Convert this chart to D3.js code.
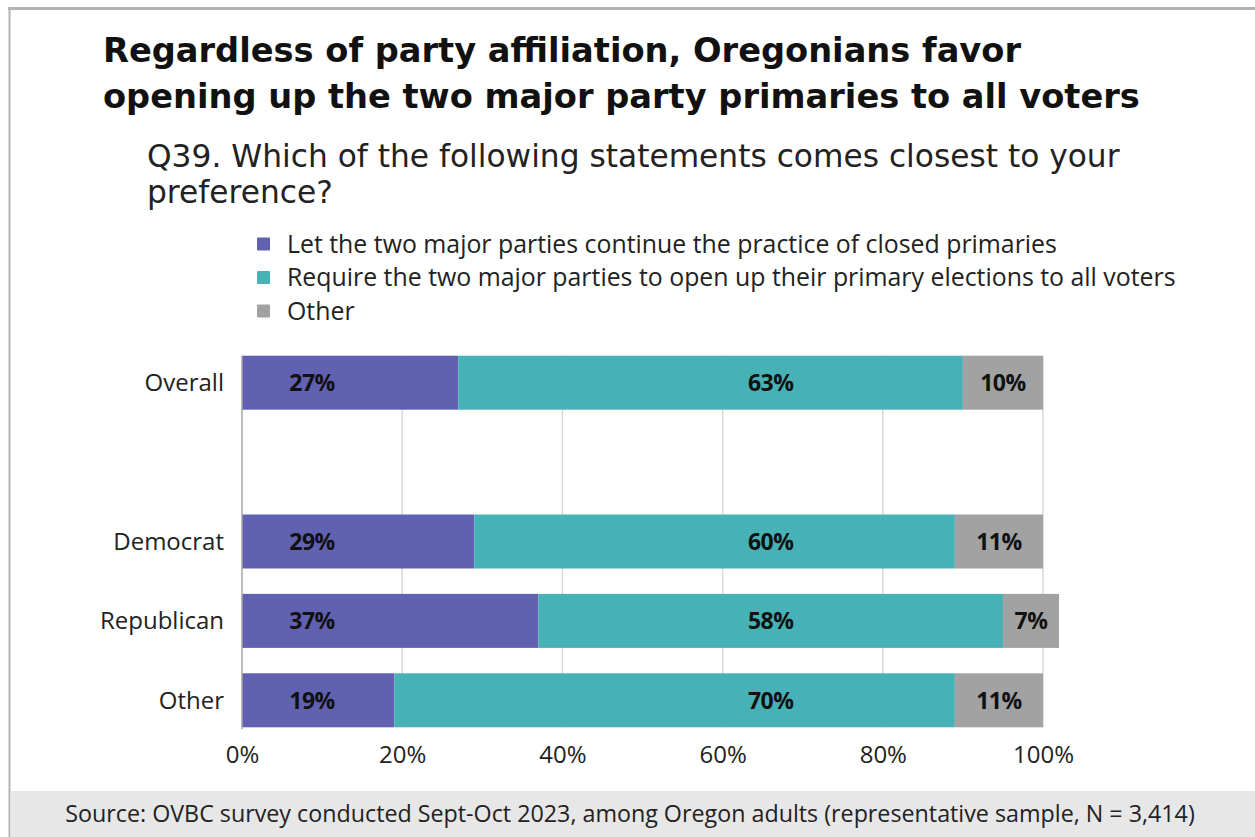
<!DOCTYPE html>
<html>
<head>
<meta charset="utf-8">
<script src="https://cdn.jsdelivr.net/npm/d3@7"></script>
<style>
  html, body { margin: 0; padding: 0; background: #fff; }
  svg { display: block; font-family: "Open Sans", Lato, sans-serif; }
</style>
</head>
<body>
<svg id="chart" width="1255" height="837"></svg>
<script>
// Survey groups (the empty entry leaves a gap between Overall and the party rows)
const groups = ["Overall", "", "Democrat", "Republican", "Other"];
const seriesNames = [
  "Let the two major parties continue the practice of closed primaries",
  "Require the two major parties to open up their primary elections to all voters",
  "Other"
];
const closedPrimaries = [27, null, 29, 37, 19];
const openPrimaries   = [63, null, 60, 58, 70];
const otherAnswer     = [10, null, 11, 7, 11];
const tickValues = [0, 20, 40, 60, 80, 100];
const colors = ["#6161b2", "#47b2b5", "#a2a2a2"];

const svg = d3.select("#chart");
const W = 1255, H = 837;

// scale a text's font size so that it spans the given width
function fitWidth(sel, width) {
  const fs = parseFloat(sel.attr("font-size"));
  const len = sel.node().getComputedTextLength();
  sel.attr("font-size", (fs * width / len).toFixed(2));
  return sel;
}

// frame lines
svg.append("line").attr("x1", 8).attr("x2", W).attr("y1", 8.5).attr("y2", 8.5)
  .attr("stroke", "#b3b3b3").attr("stroke-width", 3);
svg.append("line").attr("x1", 9.5).attr("x2", 9.5).attr("y1", 7).attr("y2", H)
  .attr("stroke", "#b3b3b3").attr("stroke-width", 2);

// titles
const t1 = svg.append("text").attr("x", 103).attr("y", 62)
  .attr("font-family", "'DejaVu Sans', sans-serif")
  .attr("font-size", 32).attr("font-weight", 700).attr("fill", "#111")
  .text("Regardless of party affiliation, Oregonians favor");
const t2 = svg.append("text").attr("x", 103).attr("y", 108)
  .attr("font-family", "'DejaVu Sans', sans-serif")
  .attr("font-size", 32).attr("font-weight", 700).attr("fill", "#111")
  .text("opening up the two major party primaries to all voters");
fitWidth(t2, 1037);
t1.attr("font-size", t2.attr("font-size"));

const s1 = svg.append("text").attr("x", 147).attr("y", 167)
  .attr("font-family", "'DejaVu Sans', sans-serif")
  .attr("font-size", 28).attr("fill", "#222")
  .text("Q39. Which of the following statements comes closest to your");
fitWidth(s1, 973);
svg.append("text").attr("x", 147).attr("y", 203)
  .attr("font-family", "'DejaVu Sans', sans-serif")
  .attr("font-size", s1.attr("font-size")).attr("fill", "#222")
  .text("preference?");

// legend
const legend = svg.append("g");
const legendTexts = seriesNames.map((name, i) => {
  const cy = 244 + i * 33.5;
  legend.append("rect").attr("x", 257).attr("y", cy - 6.5).attr("width", 13).attr("height", 13)
    .attr("rx", 1).attr("fill", colors[i]);
  return legend.append("text").attr("x", 287).attr("y", cy).attr("dy", "0.35em")
    .attr("font-size", 22).attr("fill", "#222").text(name);
});
fitWidth(legendTexts[1], 889);
legendTexts.forEach(t => t.attr("font-size", legendTexts[1].attr("font-size")));

// scales
const margin = { left: 242, right: W - 1043, top: 343, bottom: H - 740 };
const x = d3.scaleLinear().domain([0, 100]).range([margin.left, W - margin.right]);
const y = d3.scaleBand().domain(groups.map((g, i) => i)).range([margin.top, H - margin.bottom])
  .paddingInner(0.32).paddingOuter(0.16);

// gridlines
svg.append("g").selectAll("line").data(tickValues.slice(1)).join("line")
  .attr("x1", d => x(d)).attr("x2", d => x(d))
  .attr("y1", y(0)).attr("y2", y(4) + y.bandwidth())
  .attr("stroke", "#d9d9d9").attr("stroke-width", 1.5);

// stacked bars
const table = groups.map((g, i) => ({
  idx: i, group: g,
  values: [closedPrimaries[i], openPrimaries[i], otherAnswer[i]]
})).filter(d => d.values[0] != null);

const segs = [];
table.forEach(row => {
  let acc = 0;
  row.values.forEach((v, k) => {
    segs.push({ idx: row.idx, k, v, x0: acc, x1: acc + v });
    acc += v;
  });
});

svg.append("g").selectAll("rect").data(segs).join("rect")
  .attr("x", d => x(d.x0)).attr("width", d => x(d.x1) - x(d.x0))
  .attr("y", d => y(d.idx)).attr("height", y.bandwidth())
  .attr("fill", d => colors[d.k]);

// value labels
svg.append("g").selectAll("text").data(segs).join("text")
  .attr("x", d => d.k === 0 ? x(0) + 70 : d.k === 1 ? x(66) : (x(d.x0) + x(d.x1)) / 2)
  .attr("y", d => y(d.idx) + y.bandwidth() / 2)
  .attr("dy", "0.36em").attr("text-anchor", "middle")
  .attr("font-size", 23).attr("font-weight", 700).attr("fill", "#111")
  .attr("letter-spacing", -0.5)
  .text(d => d.v + "%");

// left axis line
svg.append("line").attr("x1", x(0)).attr("x2", x(0))
  .attr("y1", y(0)).attr("y2", y(4) + y.bandwidth() + 2)
  .attr("stroke", "#a6a6a6").attr("stroke-width", 1.5);

// category labels
svg.append("g").selectAll("text").data(table).join("text")
  .attr("x", 224).attr("y", d => y(d.idx) + y.bandwidth() / 2)
  .attr("dy", "0.35em").attr("text-anchor", "end")
  .attr("font-size", 24).attr("fill", "#222").text(d => d.group);

// x axis tick labels
const xAxis = d3.axisBottom(x).tickValues(tickValues).tickFormat(d => d + "%").tickSize(0).tickPadding(0);
const gx = svg.append("g").attr("transform", `translate(0,${y(4) + y.bandwidth()})`).call(xAxis);
gx.select(".domain").remove();
gx.selectAll("text").attr("font-family", "'Open Sans', sans-serif").attr("font-size", 24)
  .attr("fill", "#222").attr("y", 27).attr("dy", "0.35em");

// footer band
svg.append("rect").attr("x", 10.5).attr("y", 791).attr("width", W - 10.5).attr("height", H - 791)
  .attr("fill", "#e7e7e7");
const foot = svg.append("text").attr("x", 630).attr("y", 814).attr("dy", "0.35em").attr("text-anchor", "middle")
  .attr("font-size", 20).attr("fill", "#222")
  .text("Source: OVBC survey conducted Sept-Oct 2023, among Oregon adults (representative sample, N = 3,414)");
fitWidth(foot, 1130);
</script>
</body>
</html>
